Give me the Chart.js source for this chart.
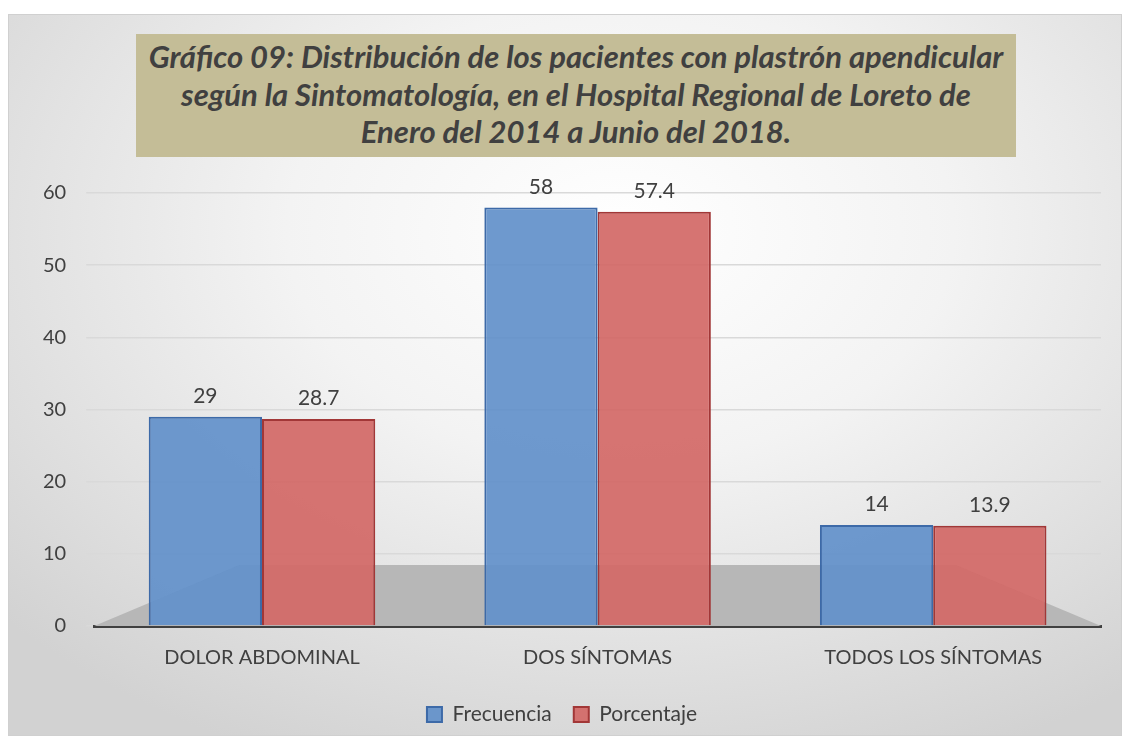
<!DOCTYPE html>
<html lang="es">
<head>
<meta charset="UTF-8">
<title>Gráfico 09</title>
<style>
  body { margin: 0; background: #fff; }
  .marco {
    position: absolute; left: 8px; top: 14px; width: 1112px; height: 720px;
    border: 1px solid #d0d0d0;
    background: radial-gradient(ellipse 75% 80% at 55% 30%, #ffffff 0%, #f3f3f3 40%, #d2d2d2 100%);
  }
  .titulo {
    position: absolute; left: 127px; top: 19px; width: 880px; height: 123px;
    background: #c4bd97; color: #404040; text-align: center;
    font: italic bold 31px Lato, sans-serif; line-height: 37.5px;
    box-sizing: border-box; padding-top: 4px; z-index: 2;
  }
  canvas { position: absolute; left: 0; top: 0; }
</style>
</head>
<body>
<div class="marco">
  <div class="titulo">Gráfico 09: Distribución de los pacientes con plastrón apendicular<br>según la Sintomatología, en el Hospital Regional de Loreto de<br>Enero del 2014 a Junio del 2018.</div>
  <canvas id="grafico" width="1112" height="720"></canvas>
</div>

<script src="https://cdn.jsdelivr.net/npm/chart.js"></script>
<script>
  // datos
  const categorias = ['DOLOR ABDOMINAL', 'DOS SÍNTOMAS', 'TODOS LOS SÍNTOMAS']
  const frecuencia = [29, 58, 14]
  const porcentaje = [28.7, 57.4, 13.9]
  const ticksY = [0, 10, 20, 30, 40, 50, 60]

  // piso gris estilo 3D detrás de las barras
  const piso = {
    id: 'piso',
    beforeDatasetsDraw (chart) {
      const { ctx, chartArea: a } = chart
      const prof = 61, corr = 145
      ctx.save()
      ctx.fillStyle = '#b7b7b7'
      ctx.beginPath()
      ctx.moveTo(a.left, a.bottom)
      ctx.lineTo(a.right, a.bottom)
      ctx.lineTo(a.right - corr, a.bottom - prof)
      ctx.lineTo(a.left + corr, a.bottom - prof)
      ctx.closePath()
      ctx.fill()
      ctx.restore()
    }
  }

  // etiquetas de valor sobre cada barra
  const etiquetas = {
    id: 'etiquetas',
    afterDatasetsDraw (chart) {
      const { ctx } = chart
      ctx.save()
      ctx.font = '21px Lato, sans-serif'
      ctx.fillStyle = '#404040'
      ctx.textAlign = 'center'
      ctx.textBaseline = 'bottom'
      chart.data.datasets.forEach((ds, i) => {
        chart.getDatasetMeta(i).data.forEach((bar, j) => {
          ctx.fillText(String(ds.data[j]), bar.x, bar.y - 10)
        })
      })
      ctx.restore()
    }
  }

  new Chart(document.getElementById('grafico'), {
    type: 'bar',
    data: {
      labels: categorias,
      datasets: [
        {
          label: 'Frecuencia',
          data: frecuencia,
          backgroundColor: 'rgba(98, 144, 202, 0.92)',
          borderColor: '#3d6aa8',
          borderWidth: 2
        },
        {
          label: 'Porcentaje',
          data: porcentaje,
          backgroundColor: 'rgba(210, 104, 102, 0.92)',
          borderColor: '#a23737',
          borderWidth: 2
        }
      ]
    },
    options: {
      responsive: false,
      animation: false,
      layout: { padding: { top: 178, right: 20, left: 14, bottom: 0 } },
      datasets: { bar: { categoryPercentage: 0.675, barPercentage: 1.0 } },
      scales: {
        x: {
          grid: { display: false },
          border: { color: '#404040', width: 3 },
          ticks: { color: '#404040', font: { family: 'Lato', size: 20 }, padding: 12 }
        },
        y: {
          min: 0,
          max: 60,
          afterBuildTicks (scale) { scale.ticks = ticksY.map(v => ({ value: v })) },
          grid: { color: '#d9d9d9', lineWidth: 1.5 },
          border: { display: false },
          ticks: { color: '#404040', font: { family: 'Lato', size: 20 }, padding: 20 }
        }
      },
      plugins: {
        legend: {
          position: 'bottom',
          labels: {
            color: '#404040',
            font: { family: 'Lato', size: 21 },
            boxWidth: 15,
            boxHeight: 15,
            padding: 22
          }
        },
        tooltip: { enabled: false }
      }
    },
    plugins: [piso, etiquetas]
  })
</script>
</body>
</html>
